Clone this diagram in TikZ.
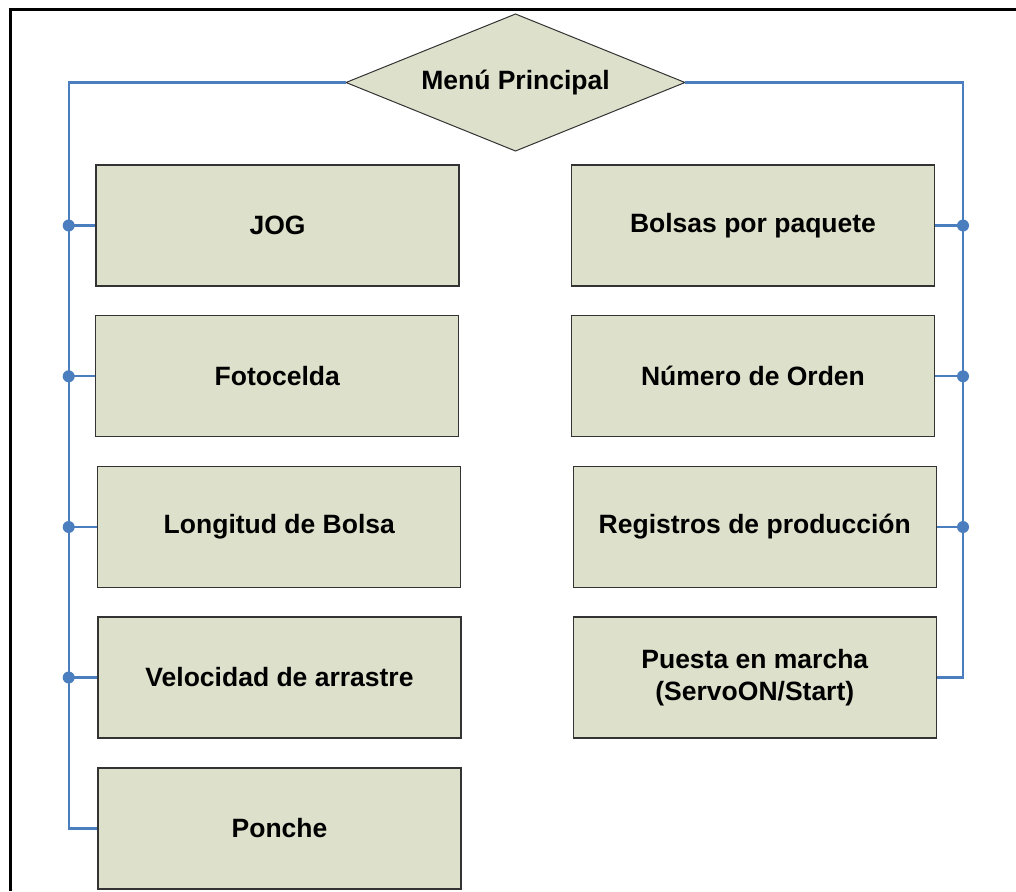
\documentclass[tikz,border=0pt]{standalone}
\usepackage{fontspec}
\setmainfont{Liberation Sans}
\definecolor{linkblue}{RGB}{74,126,190}
\definecolor{boxfill}{RGB}{221,224,203}
\begin{document}
\begin{tikzpicture}[x=1pt,y=-1pt,
  menubox/.style={draw=black!80,line width=1.1pt,fill=boxfill,rectangle,
    minimum width=363pt,minimum height=121pt,inner sep=0pt,align=center,
    font=\fontsize{26.5}{32.5}\selectfont\bfseries},
  menutext/.style={inner sep=0pt,font=\fontsize{26.5}{32.5}\selectfont\bfseries},
  menudia/.style={draw=black!80,line width=1pt,fill=boxfill},
  link/.style={draw=linkblue,line width=2.2pt},
  junction/.style={fill=linkblue}]
\useasboundingbox (0,0) rectangle (1016,891);
\fill[white] (0,0) rectangle (1016,891);
% frame (cropped)
\draw[line width=3pt] (10.8,891) -- (10.8,10) -- (1016,10);

% diamond
\coordinate (mw) at (346,82.5);
\coordinate (mn) at (515.5,14);
\coordinate (me) at (685,82.5);
\coordinate (ms) at (515.5,151);
\draw[menudia] (mw) -- (mn) -- (me) -- (ms) -- cycle;
\node[menutext] (menu) at (515.5,83) {Menú Principal};

\node[menubox] (jog) at (277.5,225.5) {JOG};
\node[menubox] (foto) at (277.3,376.3) {Fotocelda};
\node[menubox] (long) at (279.3,527) {Longitud de Bolsa};
\node[menubox] (velo) at (279.5,677.5) {Velocidad de arrastre};
\node[menubox] (ponche) at (279.5,828.5) {Ponche};

\node[menubox] (bolsas) at (753,225.5) {Bolsas por paquete};
\node[menubox] (numero) at (753,376.3) {Número de Orden};
\node[menubox] (regis) at (754.8,527) {Registros de producción};
\node[menubox] (puesta) at (754.8,677.5) {Puesta en marcha\\(ServoON/Start)};

\coordinate (lbus) at (68.7,500);
\coordinate (rbus) at (963,500);

% left bus
\draw[link] (mw) -| (lbus) |- (ponche.west);
\foreach \n in {jog,foto,long,velo}{
  \draw[link] (\n.west) -- (\n.west -| lbus);
  \fill[junction] (\n.west -| lbus) circle (6pt);
}
% right bus
\draw[link] (me) -| (rbus) |- (puesta.east);
\foreach \n in {bolsas,numero,regis}{
  \draw[link] (\n.east) -- (\n.east -| rbus);
  \fill[junction] (\n.east -| rbus) circle (6pt);
}
\end{tikzpicture}
\end{document}
